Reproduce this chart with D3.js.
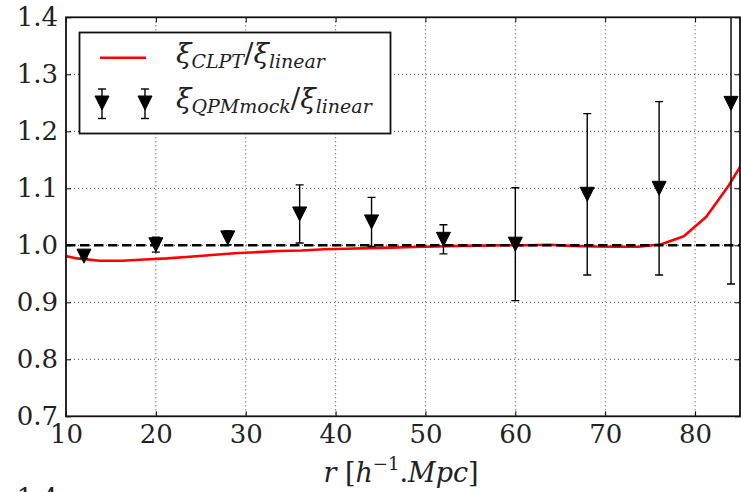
<!DOCTYPE html>
<html><head><meta charset="utf-8">
<script src="https://cdn.jsdelivr.net/npm/d3@7"></script>
<style>
html,body{margin:0;padding:0;background:#fff;}
svg{display:block;}
</style></head><body>
<svg id="chart" width="741" height="492"></svg>
<script>
// QPM mock ratio measurements (separation bins) and their 1-sigma errors
const mockR = [12, 20, 28, 36, 44, 52, 60, 68, 76, 84];
const mockRatio = [0.981, 1.001, 1.013, 1.055, 1.041, 1.0105, 1.002, 1.0895, 1.100, 1.249];
const mockErr = [0.004, 0.013, 0.012, 0.051, 0.043, 0.0255, 0.099, 0.1415, 0.152, 0.317];

// CLPT / linear prediction
const clptR = [8.75, 11.25, 13.75, 16.25, 18.75, 21.25, 23.75, 26.25, 28.75, 31.25, 33.75, 36.25,
  38.75, 41.25, 43.75, 46.25, 48.75, 51.25, 53.75, 56.25, 58.75, 61.25, 63.75, 66.25, 68.75,
  71.25, 73.75, 76.25, 78.75, 81.25, 83.75, 86.25];
const clptRatio = [0.985, 0.977, 0.973, 0.973, 0.975, 0.977, 0.980, 0.983, 0.986, 0.988, 0.990, 0.991,
  0.993, 0.994, 0.995, 0.996, 0.997, 0.998, 0.999, 0.9995, 1.000, 1.000, 1.001, 0.999, 0.998,
  0.9975, 0.9975, 1.0017, 1.016, 1.050, 1.105, 1.170];

const xTicks = [10, 20, 30, 40, 50, 60, 70, 80];
const yTicks = [0.7, 0.8, 0.9, 1.0, 1.1, 1.2, 1.3, 1.4];
const xDomain = [10, 85];
const yDomain = [0.7, 1.4];

const FONT = "DejaVu Serif";
const svg = d3.select("#chart").attr("font-family", FONT);
const L = 66, R = 740, T = 17.3, B = 416.3;
const W = R - L, H = B - T;

const x = d3.scaleLinear().domain(xDomain).range([L, R]);
const y = d3.scaleLinear().domain(yDomain).range([B, T]);

svg.append("defs").append("clipPath").attr("id", "plotclip")
  .append("rect").attr("x", L).attr("y", T).attr("width", W).attr("height", H);

// grid
const grid = svg.append("g").attr("stroke", "#333").attr("stroke-width", 0.9)
  .attr("stroke-dasharray", "1,3");
grid.selectAll("line.gx").data(xTicks.slice(1)).join("line").attr("class", "gx")
  .attr("x1", d => x(d)).attr("x2", d => x(d)).attr("y1", T).attr("y2", B);
grid.selectAll("line.gy").data(yTicks.slice(1, -1)).join("line").attr("class", "gy")
  .attr("x1", L).attr("x2", R).attr("y1", d => y(d)).attr("y2", d => y(d));

const plot = svg.append("g").attr("clip-path", "url(#plotclip)");

// CLPT curve
plot.append("path").datum(clptR.map((r, i) => [r, clptRatio[i]]))
  .attr("fill", "none").attr("stroke", "#ff0000").attr("stroke-width", 2.6)
  .attr("stroke-linejoin", "round")
  .attr("d", d3.line().x(d => x(d[0])).y(d => y(d[1])));

// unity reference
plot.append("line").attr("x1", L).attr("x2", R).attr("y1", y(1)).attr("y2", y(1))
  .attr("stroke", "#000").attr("stroke-width", 2.6).attr("stroke-dasharray", "9.5,4.5");

// error bars
const triangle = (cx, cy, s) => `M${cx - s / 2},${cy - s / 2}L${cx + s / 2},${cy - s / 2}L${cx},${cy + s / 2}Z`;
const eb = plot.append("g").attr("stroke", "#000").attr("stroke-width", 1.4);
mockR.forEach((r, i) => {
  const cx = x(r), lo = y(mockRatio[i] - mockErr[i]), hi = y(mockRatio[i] + mockErr[i]);
  eb.append("line").attr("x1", cx).attr("x2", cx).attr("y1", lo).attr("y2", hi);
  eb.append("line").attr("x1", cx - 4).attr("x2", cx + 4).attr("y1", lo).attr("y2", lo);
  eb.append("line").attr("x1", cx - 4).attr("x2", cx + 4).attr("y1", hi).attr("y2", hi);
});
plot.append("g").selectAll("path").data(mockR).join("path")
  .attr("d", (r, i) => triangle(x(r), y(mockRatio[i]), 14))
  .attr("fill", "#000").attr("stroke", "#000").attr("stroke-width", 1);

// axes with inward ticks
const styleAxis = g => g.attr("font-family", FONT).attr("font-size", 26)
  .call(a => a.select(".domain").remove())
  .call(a => a.selectAll("line").attr("stroke", "#000").attr("stroke-width", 1))
  .call(a => a.selectAll("text").attr("fill", "#222"));
svg.append("g").attr("transform", `translate(0,${B})`)
  .call(d3.axisBottom(x).tickValues(xTicks).tickFormat(d3.format("d")).tickSizeInner(-5).tickSizeOuter(0).tickPadding(8))
  .call(styleAxis);
svg.append("g").attr("transform", `translate(${L},0)`)
  .call(d3.axisLeft(y).tickValues(yTicks).tickFormat(d3.format(".1f")).tickSizeInner(-5).tickSizeOuter(0).tickPadding(8))
  .call(styleAxis);
svg.append("g").attr("transform", `translate(0,${T})`)
  .call(d3.axisTop(x).tickValues(xTicks).tickFormat("").tickSizeInner(-5).tickSizeOuter(0))
  .call(styleAxis);
svg.append("g").attr("transform", `translate(${R},0)`)
  .call(d3.axisRight(y).tickValues(yTicks).tickFormat("").tickSizeInner(-5).tickSizeOuter(0))
  .call(styleAxis);

// spines
svg.append("rect").attr("x", L).attr("y", T).attr("width", W).attr("height", H)
  .attr("fill", "none").attr("stroke", "#111").attr("stroke-width", 1.8);

// x label
const xl = svg.append("text").attr("x", 401).attr("y", 482).attr("text-anchor", "middle")
  .attr("font-size", 27).attr("fill", "#222");
xl.append("tspan").attr("font-style", "italic").text("r");
xl.append("tspan").text(" [");
xl.append("tspan").attr("font-style", "italic").text("h");
xl.append("tspan").attr("font-size", 18).attr("dy", -12).text("−1");
xl.append("tspan").attr("dy", 12).text(".");
xl.append("tspan").attr("font-style", "italic").text("Mpc");
xl.append("tspan").text("]");

// top of the next panel's tick label
svg.append("text").attr("x", 58).attr("y", 507).attr("text-anchor", "end")
  .attr("font-size", 26).attr("fill", "#222").text("1.4");

// legend
const lg = svg.append("g");
lg.append("rect").attr("x", 79.5).attr("y", 32.5).attr("width", 311).attr("height", 101)
  .attr("fill", "#fff").attr("stroke", "#111").attr("stroke-width", 1.8);
lg.append("line").attr("x1", 100).attr("x2", 146).attr("y1", 57.7).attr("y2", 57.7)
  .attr("stroke", "#ff0000").attr("stroke-width", 2.6);
[102, 145].forEach(cx => {
  lg.append("line").attr("x1", cx).attr("x2", cx).attr("y1", 89).attr("y2", 118.5)
    .attr("stroke", "#000").attr("stroke-width", 1.4);
  lg.append("line").attr("x1", cx - 4).attr("x2", cx + 4).attr("y1", 89).attr("y2", 89)
    .attr("stroke", "#000").attr("stroke-width", 1.4);
  lg.append("line").attr("x1", cx - 4).attr("x2", cx + 4).attr("y1", 118.5).attr("y2", 118.5)
    .attr("stroke", "#000").attr("stroke-width", 1.4);
  lg.append("path").attr("d", triangle(cx, 103, 14)).attr("fill", "#000").attr("stroke", "#000");
});
function ratioLabel(yb, sub) {
  const t = lg.append("text").attr("x", 176).attr("y", yb).attr("font-size", 28)
    .attr("font-style", "italic").attr("fill", "#222");
  t.append("tspan").text("ξ");
  t.append("tspan").attr("font-size", 19).attr("dy", 5).text(sub);
  t.append("tspan").attr("dy", -5).attr("font-style", "normal").text("/");
  t.append("tspan").text("ξ");
  t.append("tspan").attr("font-size", 19).attr("dy", 5).text("linear");
}
ratioLabel(63, "CLPT");
ratioLabel(108, "QPMmock");
</script>
</body></html>
